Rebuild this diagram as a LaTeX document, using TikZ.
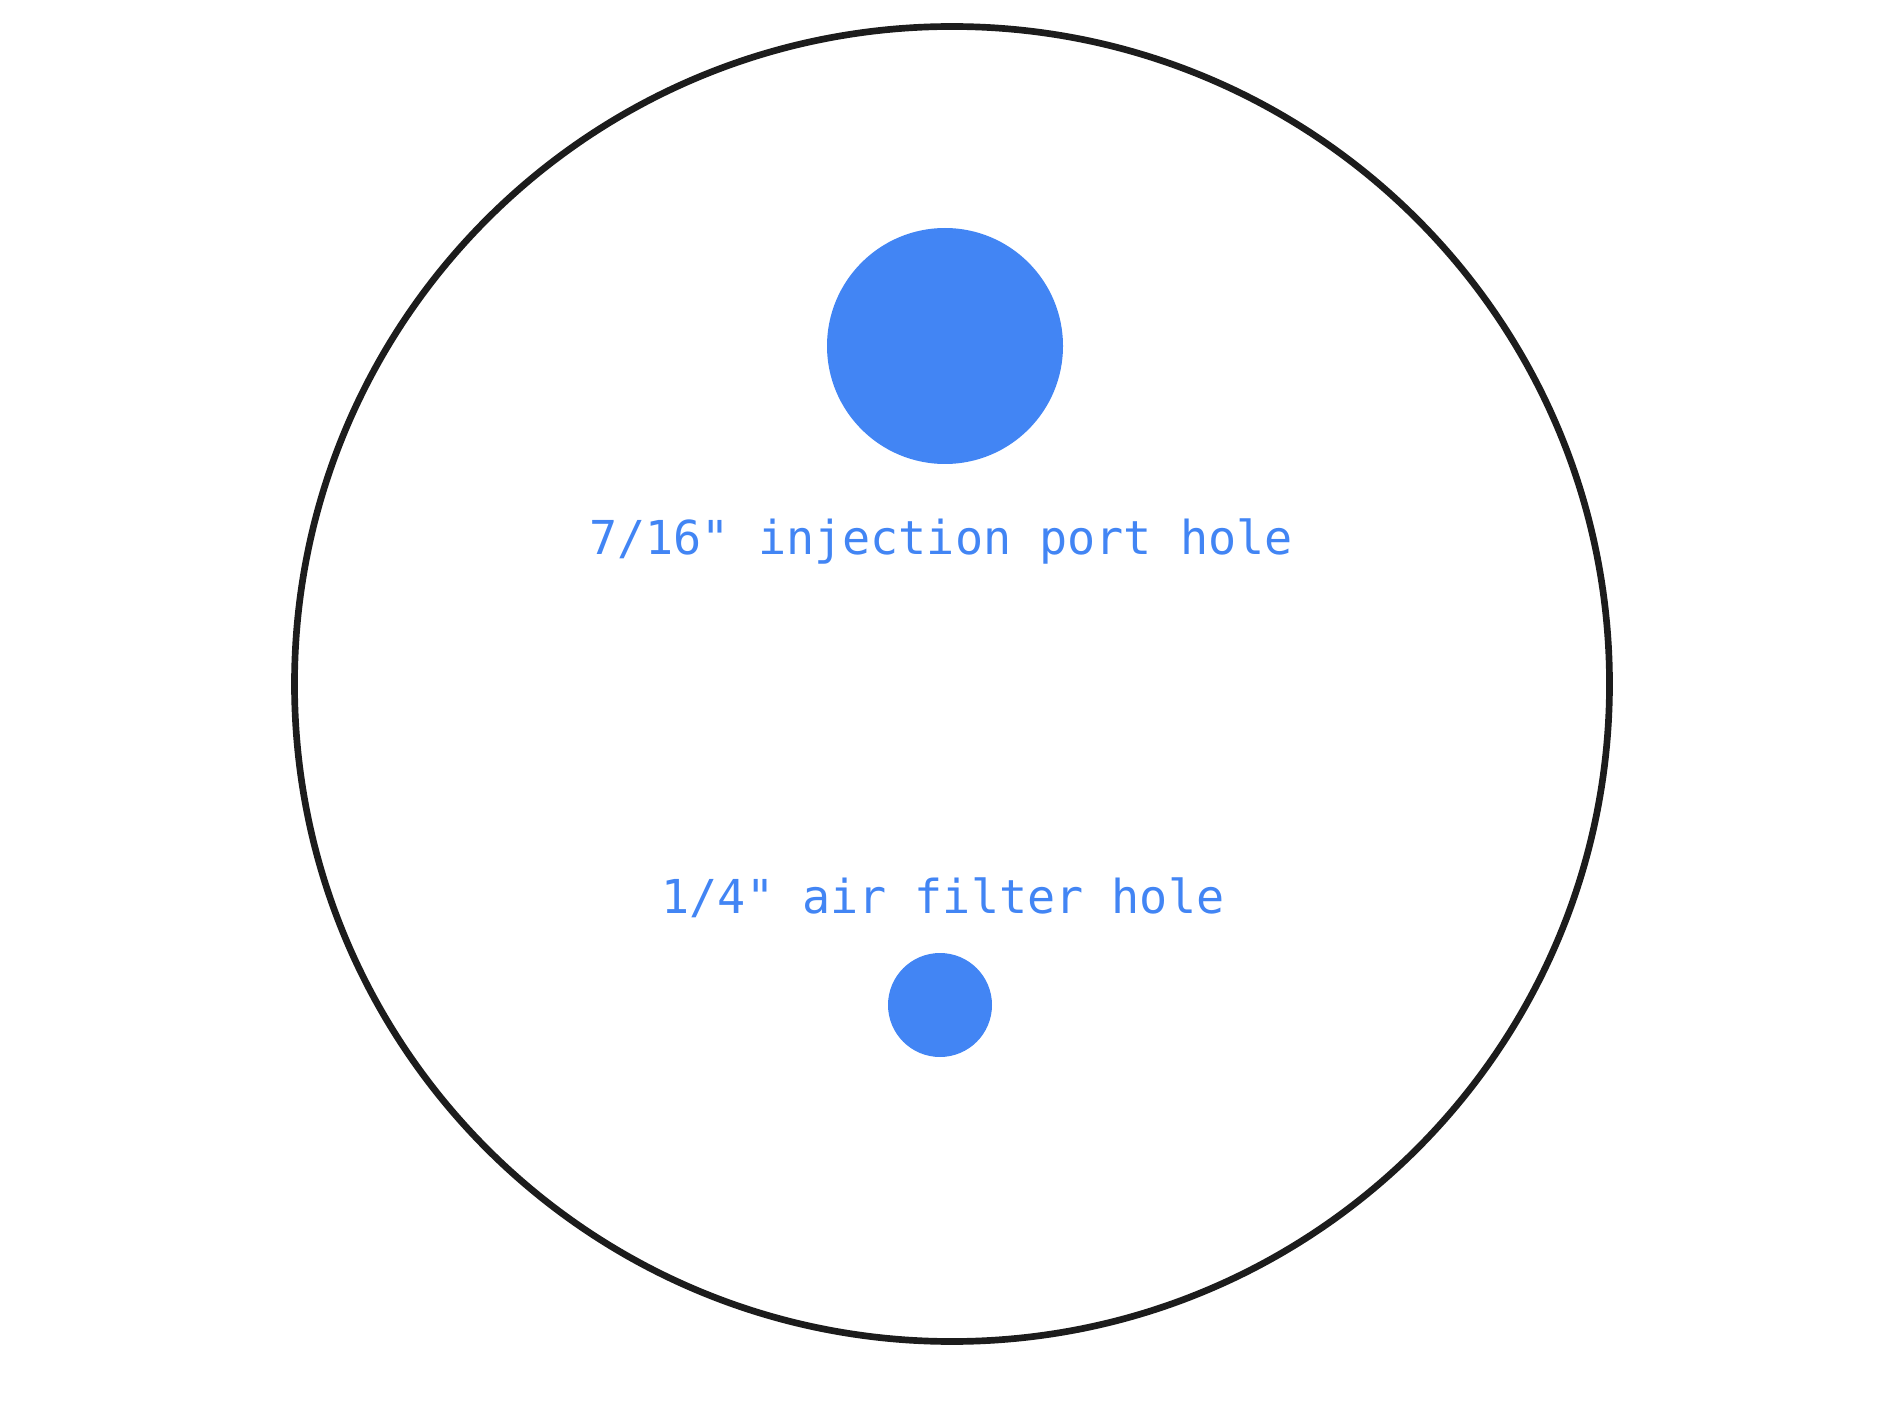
\documentclass[tikz,border=0pt]{standalone}
\usepackage{fontspec}
\setmonofont{DejaVu Sans Mono}
\definecolor{holeblue}{HTML}{4285F4}
\definecolor{rimgray}{HTML}{1C1C1C}

\begin{document}
\begin{tikzpicture}[ plate/.style={draw=rimgray,line width=1.9pt},
    hole/.style={circle,fill=holeblue,inner sep=0pt},
    holetext/.style={anchor=base,text=holeblue,inner sep=0pt,
        font={\ttfamily\fontsize{13.3}{15}\selectfont}}]
\useasboundingbox (0,0) rectangle (18.96,14.22);

\draw[plate] (9.52,7.38) circle (6.575);

\node[hole,minimum size=2.36cm] (port) at (9.45,10.76) {};
\node[holetext] (portlabel) at (9.41,8.67) {7/16" injection port hole};

\node[holetext] (filterlabel) at (9.43,5.09) {1/4" air filter hole};
\node[hole,minimum size=1.04cm] (filter) at (9.40,4.17) {};
\end{tikzpicture}
\end{document}
